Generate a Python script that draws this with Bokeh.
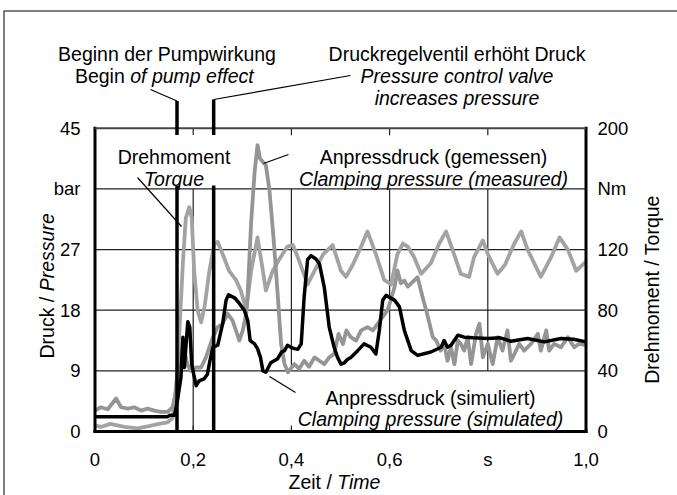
import numpy as np
from bokeh.plotting import figure
from bokeh.models import Range1d
from bokeh.embed import file_html
from bokeh.resources import INLINE
from bokeh.core.properties import value

# ---------------- data ----------------
# simulated clamping pressure (bar) - black
sim_t = [0.000, 0.050, 0.100, 0.148, 0.152, 0.162, 0.168, 0.175, 0.179, 0.182,
         0.189, 0.193, 0.197, 0.201, 0.206, 0.212, 0.222, 0.229, 0.234, 0.240,
         0.250, 0.260, 0.267, 0.272, 0.285, 0.294, 0.304, 0.311, 0.316, 0.325,
         0.331, 0.337, 0.342, 0.348, 0.358, 0.365, 0.372, 0.380, 0.386, 0.392,
         0.399, 0.406, 0.413, 0.420, 0.426, 0.433, 0.440, 0.450, 0.457, 0.467,
         0.477, 0.487, 0.494, 0.501, 0.508, 0.514, 0.521, 0.535, 0.548, 0.562,
         0.572, 0.579, 0.586, 0.593, 0.610, 0.620, 0.630, 0.644, 0.657, 0.684,
         0.705, 0.711, 0.718, 0.725, 0.739, 0.752, 0.770, 0.800, 0.825, 0.847,
         0.881, 0.915, 0.949, 0.975, 1.000]
sim_p = [2.2, 2.2, 2.2, 2.2, 2.4, 2.4, 4.6, 8.0, 14.0, 9.5,
         16.3, 15.5, 10.0, 8.5, 6.8, 7.5, 7.8, 8.5, 10.5, 12.5,
         12.8, 16.0, 19.5, 20.3, 19.8, 19.0, 18.0, 16.5, 13.5, 13.0,
         12.3, 11.0, 9.0, 8.8, 10.2, 10.5, 10.8, 11.8, 12.0, 12.8,
         12.5, 12.3, 12.2, 13.0, 20.0, 25.5, 26.1, 25.6, 24.9, 21.4,
         15.5, 12.5, 11.0, 10.0, 10.2, 10.7, 11.0, 12.0, 13.0, 12.5,
         11.5, 15.0, 19.5, 20.2, 19.5, 18.5, 15.0, 12.0, 11.3, 11.8,
         12.5, 13.5, 12.5, 12.8, 14.3, 14.0, 13.9, 13.8, 13.9, 13.4,
         13.8, 13.3, 13.8, 13.7, 13.3]

# measured clamping pressure (bar) - gray, jagged
meas_t = [0.000, 0.012, 0.026, 0.043, 0.053, 0.067, 0.080, 0.094, 0.107, 0.121,
          0.134, 0.148, 0.158, 0.165, 0.172, 0.178, 0.182, 0.188, 0.195, 0.205,
          0.216, 0.226, 0.240, 0.250, 0.260, 0.270, 0.280, 0.287, 0.294, 0.301,
          0.308, 0.311, 0.318, 0.325, 0.331, 0.336, 0.342, 0.348, 0.355, 0.361,
          0.365, 0.372, 0.379, 0.386, 0.393, 0.406, 0.416, 0.426, 0.436, 0.447,
          0.457, 0.467, 0.477, 0.487, 0.496, 0.505, 0.512, 0.521, 0.532, 0.542,
          0.555, 0.566, 0.576, 0.586, 0.596, 0.610, 0.616, 0.623, 0.630, 0.637,
          0.644, 0.657, 0.667, 0.678, 0.688, 0.695, 0.704, 0.711, 0.718, 0.725,
          0.732, 0.739, 0.745, 0.752, 0.759, 0.766, 0.776, 0.783, 0.790, 0.800,
          0.810, 0.820, 0.830, 0.840, 0.847, 0.854, 0.864, 0.874, 0.888, 0.902,
          0.908, 0.919, 0.925, 0.935, 0.949, 0.963, 0.976, 0.986, 1.000]
meas_p = [3.1, 3.6, 3.3, 4.9, 3.6, 3.4, 3.6, 3.1, 3.4, 3.1,
          2.9, 2.9, 3.6, 6.0, 10.0, 12.5, 12.0, 10.0, 9.0, 9.5,
          9.5, 11.0, 14.0, 15.5, 16.0, 17.5, 16.5, 15.0, 13.5, 15.0,
          17.5, 20.5, 31.0, 38.5, 42.5, 40.5, 40.0, 39.5, 36.0, 31.0,
          27.4, 20.4, 13.0, 10.0, 8.8, 10.0, 9.3, 10.5, 9.6, 11.0,
          10.5, 10.0, 11.0, 11.5, 14.5, 13.0, 15.0, 14.0, 13.5, 15.0,
          15.5, 15.0, 16.0, 17.0, 18.0, 21.4, 23.9, 22.0, 22.4, 21.5,
          22.0, 22.9, 20.0, 17.0, 14.0, 13.5, 12.0, 13.0, 10.5, 12.5,
          10.0, 13.5, 13.0, 12.0, 14.0, 10.0, 14.5, 16.0, 11.0, 13.0,
          10.0, 14.0, 12.0, 15.0, 10.5, 11.5, 13.0, 12.0, 13.0, 14.5,
          12.0, 15.0, 12.0, 13.0, 12.5, 14.0, 12.5, 13.0, 12.8]

# torque (Nm) - gray, right axis
torque_t = [0.000, 0.012, 0.031, 0.060, 0.087, 0.110, 0.130, 0.148, 0.158, 0.162,
            0.168, 0.172, 0.179, 0.185, 0.192, 0.197, 0.202, 0.209, 0.216, 0.223,
            0.233, 0.243, 0.250, 0.260, 0.273, 0.287, 0.297, 0.308, 0.318, 0.331,
            0.340, 0.348, 0.362, 0.378, 0.392, 0.403, 0.413, 0.433, 0.447, 0.465,
            0.484, 0.501, 0.511, 0.525, 0.542, 0.555, 0.572, 0.589, 0.603, 0.616,
            0.627, 0.637, 0.650, 0.664, 0.684, 0.701, 0.715, 0.728, 0.745, 0.762,
            0.772, 0.790, 0.800, 0.820, 0.835, 0.854, 0.868, 0.881, 0.908, 0.929,
            0.946, 0.963, 0.980, 1.000]
torque_nm = [4, 3, 5, 3, 2, 3.5, 5, 6, 9, 20,
             40, 67, 111, 141, 148, 141, 106, 80, 72, 82,
             106, 124, 125, 117, 106, 100, 93, 80, 106, 128,
             110, 93, 106, 115, 122, 123, 115, 97, 106, 117,
             123, 106, 102, 110, 122, 132, 117, 100, 97, 117,
             124, 122, 115, 104, 111, 124, 132, 120, 104, 102,
             115, 126, 117, 104, 110, 124, 132, 120, 102, 115,
             128, 120, 106, 112]

# event markers (s)
marker_t = [0.167, 0.2417]

# ticks
x_ticks = [0.0, 0.2, 0.4, 0.6, 0.8, 1.0]
x_tick_labels = ["0", "0,2", "0,4", "0,6", "s", "1,0"]
p_ticks = [0, 9, 18, 27, 36, 45]
p_tick_labels = ["0", "9", "18", "27", "bar", "45"]
nm_ticks = [0, 40, 80, 120, 160, 200]
nm_tick_labels = ["0", "40", "80", "120", "Nm", "200"]

X_MAX, P_MAX, NM_MAX = 1.0, 45.0, 200.0

# ---------------- layout ----------------
W, H = 677, 495
OFF = 0
FL, FR, FT, FB = 94.5 - OFF, 585.5 - OFF, 127.8 - OFF, 431.0 - OFF
SX = (FR - FL) / X_MAX
SY = (FB - FT) / P_MAX

FONT = "Liberation Sans"
FS = "19.5px"
TFS = "18.5px"


def X(px):
    return (px - OFF - FL) / SX


def Y(py):
    return (FB - (py - OFF)) / SY


p = figure(width=W, height=H, output_backend="svg", toolbar_location=None,
           x_range=Range1d(-FL / SX, (W - FL) / SX),
           y_range=Range1d(-(H - FB) / SY, FB / SY),
           x_axis_location=None, y_axis_location=None, title=None,
           min_border=0, min_border_left=0, min_border_right=0,
           min_border_top=0, min_border_bottom=0,
           outline_line_color=None, background_fill_color="white",
           border_fill_color="white")
p.grid.visible = False
p.extra_y_ranges = {"nm": Range1d(p.y_range.start * NM_MAX / P_MAX,
                                  p.y_range.end * NM_MAX / P_MAX)}


def txt(x, y, s, size=FS, align="center", baseline="alphabetic",
        style="normal", angle=0.0, y_range_name="default"):
    p.text(x=x if isinstance(x, list) else [x],
           y=y if isinstance(y, list) else [y],
           text=s if isinstance(s, list) else [s],
           text_font=value(FONT), text_font_size=value(size),
           text_align=align, text_baseline=baseline,
           text_font_style=style, angle=angle, text_color="black",
           y_range_name=y_range_name)


# outer scan border (top and left only)
p.segment(x0=[X(3), X(3.5)], y0=[Y(10.5), Y(10.5)], x1=[X(677), X(3.5)], y1=[Y(10.5), Y(500)],
          line_color="#555555", line_width=1.5)

# grid
hg = p_ticks[1:-1]
p.segment(x0=[0] * len(hg), y0=hg, x1=[X_MAX] * len(hg), y1=hg,
          line_color="#222222", line_width=1.2)
vg = x_ticks[1:-1]
p.segment(x0=vg, y0=[0 if v == 0.2 else 9 for v in vg], x1=vg, y1=[36] * len(vg),
          line_color="#222222", line_width=1.2)
# inward ticks top / bottom
p.segment(x0=vg, y0=[P_MAX] * len(vg), x1=vg, y1=[P_MAX - 7 / SY] * len(vg),
          line_color="#222222", line_width=1.2)
p.segment(x0=vg, y0=[0] * len(vg), x1=vg, y1=[6 / SY] * len(vg),
          line_color="#222222", line_width=1.2)

# data series
p.line(torque_t, torque_nm, y_range_name="nm", line_color="#a3a3a3", line_width=3.8,
       line_join="round")
p.line(meas_t, meas_p, line_color="#959595", line_width=3.8, line_join="round")
p.line(sim_t, sim_p, line_color="black", line_width=3.5, line_join="round")

# frame
p.segment(x0=[0, 0, X_MAX], y0=[0, 0, 0], x1=[0, X_MAX, X_MAX], y1=[P_MAX, 0, P_MAX],
          line_color="black", line_width=3, line_cap="square")
p.segment(x0=[0], y0=[P_MAX], x1=[X_MAX], y1=[P_MAX], line_color="#444444", line_width=2)

# event markers
p.segment(x0=marker_t, y0=[0, 0], x1=marker_t, y1=[Y(100.5), Y(99)],
          line_color="black", line_width=3.5)

# white box behind the torque label (interrupts the marker lines)
p.quad(left=[X(113)], right=[X(234)], top=[Y(134.5)], bottom=[Y(185)],
       fill_color="white", line_color=None)

# leaders
lead_x0 = [marker_t[0], marker_t[1], X(137), X(288), X(269)]
lead_y0 = [Y(100.5), Y(99), Y(177), Y(154), Y(376)]
lead_x1 = [X(150), X(350), X(181), X(263), X(295)]
lead_y1 = [Y(89), Y(75), Y(226), Y(163), Y(392)]
p.segment(x0=lead_x0, y0=lead_y0, x1=lead_x1, y1=lead_y1, line_color="black", line_width=1.2)

# annotation texts
txt(X(166.5), Y(53.5), "Beginn der Pumpwirkung")
txt(X(74.4), Y(75), "Begin", align="left")
txt(X(129.7), Y(75), "of pump effect", align="left", style="italic")
txt(X(456.5), Y(53.5), "Druckregelventil erhöht Druck")
txt(X(456.5), Y(75), "Pressure control valve", style="italic")
txt(X(456.5), Y(97), "increases pressure", style="italic")
txt(X(173.5), Y(156.5), "Drehmoment")
txt(X(173.5), Y(178), "Torque", style="italic")
txt(X(433), Y(156.5), "Anpressdruck (gemessen)")
txt(X(433), Y(178), "Clamping pressure (measured)", style="italic")
txt(X(430), Y(397), "Anpressdruck (simuliert)")
txt(X(430), Y(418.5), "Clamping pressure (simulated)", style="italic")

# tick labels
txt(x_ticks, [Y(459)] * len(x_ticks), x_tick_labels, size=TFS)
txt([X(80)] * len(p_ticks), [float(v) for v in p_ticks], p_tick_labels, size=TFS,
    align="right", baseline="middle")
txt([X(597)] * len(nm_ticks), [float(v) for v in nm_ticks], nm_tick_labels, size=TFS,
    align="left", baseline="middle", y_range_name="nm")

# axis titles
txt(X(288), Y(481), "Zeit /", align="left")
txt(X(336.8), Y(481), "Time", align="left", style="italic")
txt(X(46.5), Y(358), "Druck /", align="left", angle=np.pi / 2)
txt(X(46.5), Y(290.8), "Pressure", align="left", style="italic", angle=np.pi / 2)
txt(X(651), Y(289), "Drehmoment / Torque", align="center", angle=np.pi / 2)

open("out.html", "w").write(file_html(p, INLINE))
